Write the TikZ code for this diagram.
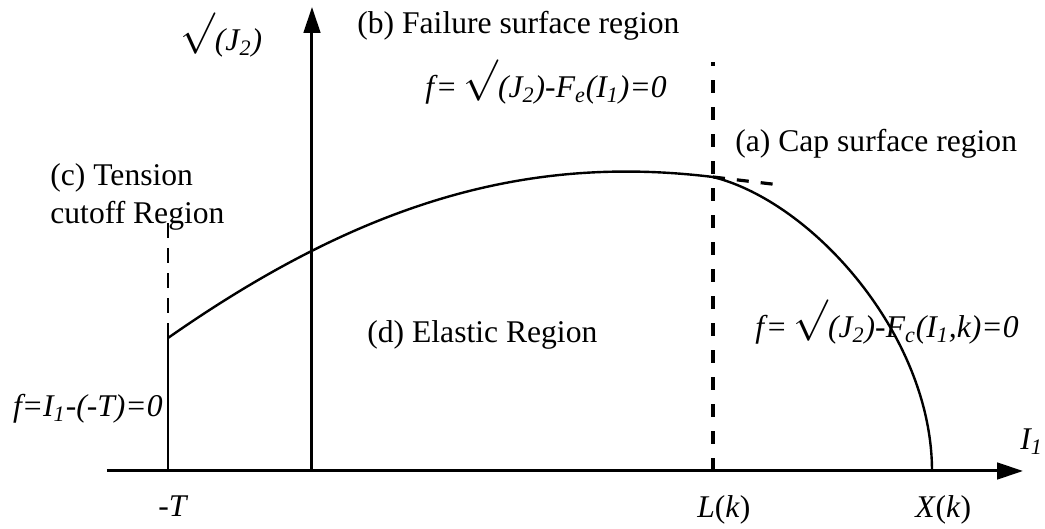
\documentclass[tikz,border=0pt]{standalone}
\usepackage{fontspec}
\setmainfont{Liberation Serif}
\usetikzlibrary{arrows.meta}
\newcommand{\surdsign}{{\fontsize{20}{20}\selectfont\raisebox{3.6pt}{$\surd$}}}

\begin{document}
\begin{tikzpicture}[
    x=0.5pt, y=0.5pt,
    axis/.style={line width=1.5pt, -{Triangle[length=13pt, width=8.3pt]}},
    curve/.style={line width=1.2pt},
    guide/.style={line width=1.6pt, dash pattern=on 6.5pt off 7pt},
    lab/.style={font=\fontsize{15.8}{19}\selectfont, inner sep=0pt},
]
    \useasboundingbox (-312,-58) rectangle (733,471);

    % key points
    \coordinate (O) at (0,0);
    \coordinate (xs) at (-205,0);
    \coordinate (xe) at (711,0);
    \coordinate (ye) at (0,464);
    \coordinate (T) at (-144,0);
    \coordinate (Ttop) at (-144,133);
    \coordinate (Tcut) at (-144,253);
    \coordinate (Lk) at (401,0);
    \coordinate (L) at (401,294);
    \coordinate (Ltop) at (401,409);
    \coordinate (tan) at (468,286);
    \coordinate (Xk) at (620,0);

    % Axes
    \draw[axis] (xs) -- (xe);
    \draw[axis] (O) -- (ye);

    % Tension cutoff
    \draw[line width=1.4pt] (T) -- (Ttop);
    \draw[guide, line width=1.2pt, dash pattern=on 7.5pt off 5pt] (Ttop) -- (Tcut);

    % Failure surface and cap
    \draw[curve] (Ttop) .. controls (56,273) and (221,316) .. (L);
    \draw[curve] (L) .. controls (501,269) and (620,135) .. (Xk);
    \draw[guide] (Lk) -- (Ltop);
    \draw[guide, dash pattern=on 6pt off 6pt] (L) -- (tan);

    % Labels
    \node[lab, anchor=base west] (jlab) at (-132,420)
      {\surdsign\textit{(J\textsubscript{2})}};
    \node[lab, anchor=base west] (reg-b) at (45,437) {(b) Failure surface region};
    \node[lab, anchor=base west] (fe) at (113,373)
      {\textit{f}= \surdsign\textit{(J\textsubscript{2})-F\textsubscript{e}(I\textsubscript{1})=0}};
    \node[lab, anchor=base west] (reg-a) at (423,319) {(a) Cap surface region};
    \node[lab, anchor=north west, align=left] (reg-c) at (-262,308)
      {(c) Tension\\cutoff Region};
    \node[lab, anchor=base west] (reg-d) at (55,128) {(d) Elastic Region};
    \node[lab, anchor=base east] (ft) at (-149,54)
      {\textit{f=I\textsubscript{1}-(-T)=0}};
    \node[lab, anchor=base west] (fc) at (443,133)
      {\textit{f}= \surdsign\textit{(J\textsubscript{2})-F\textsubscript{c}(I\textsubscript{1},k)=0}};
    \node[lab, anchor=base west] (i1) at (708,21) {\textit{I\textsubscript{1}}};
    \node[lab, anchor=base west] (tlab) at (-154,-46) {\textit{-T}};
    \node[lab, anchor=base west] (llab) at (385,-47) {\textit{L}(\textit{k})};
    \node[lab, anchor=base west] (xlab) at (603,-47) {\textit{X}(\textit{k})};
\end{tikzpicture}
\end{document}
